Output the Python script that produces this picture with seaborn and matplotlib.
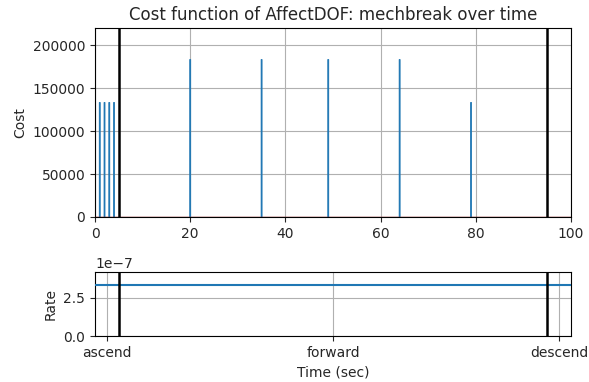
import matplotlib
matplotlib.use("Agg")
import matplotlib.pyplot as plt
import seaborn as sns
import pandas as pd

times = [1, 2, 3, 4, 20, 35, 49, 64, 79]
costs = [133333, 133333, 133333, 133333, 183333, 183333, 183333, 183333, 133333]
phase_bounds = [5, 95]
phase_labels = ["ascend", "forward", "descend"]
phase_ticks = [2.5, 50, 97.5]
rate_value = 3.35e-7

sns.set_style("white")
plt.rcParams["font.family"] = ["DejaVu Sans"]
plt.rcParams["axes.edgecolor"] = "black"

fig = plt.figure(figsize=(5.89, 3.82), dpi=100)
W, H = 589, 382
ax1 = fig.add_axes([95 / W, 1 - 217 / H, 476 / W, 189 / H])
ax2 = fig.add_axes([95 / W, 1 - 336 / H, 476 / W, 64 / H])

df = pd.DataFrame({"Time": times, "Cost": costs})
sns.barplot(data=df, x="Time", y="Cost", native_scale=True, width=0.2,
            color="#1f77b4", saturation=1, ax=ax1)
for p in ax1.patches:
    p.set_zorder(3)
    p.set_snap(False)
    p.set_antialiased(True)
    p.set_edgecolor("#1f77b4")
    p.set_linewidth(0.6)
ax1.axhline(0, color="#8b0000", lw=1, zorder=4)
for b in phase_bounds:
    ax1.axvline(b, color="black", lw=1.8, zorder=5)
ax1.set_xlim(0, 100)
ax1.set_ylim(0, 220000)
ax1.set_xticks([0, 20, 40, 60, 80, 100])
ax1.set_xticklabels(["0", "20", "40", "60", "80", "100"])
ax1.set_yticks([0, 50000, 100000, 150000, 200000])
ax1.grid(True, color="#b0b0b0", lw=0.8, zorder=0)
ax1.set_axisbelow(True)
ax1.set_xlabel("")
ax1.set_ylabel("Cost", fontsize=10)
ax1.set_title("Cost function of AffectDOF: mechbreak over time", fontsize=12)
ax1.tick_params(axis="both", labelsize=10, direction="out", length=3.5, width=0.8, bottom=True, left=True)

rdf = pd.DataFrame({"x": [0, 100], "Rate": [rate_value, rate_value]})
sns.lineplot(data=rdf, x="x", y="Rate", color="#1f77b4", lw=1.5, ax=ax2, zorder=3)
for b in phase_bounds:
    ax2.axvline(b, color="black", lw=1.8, zorder=5)
ax2.set_xlim(0, 100)
ax2.set_ylim(0, 4.2e-7)
ax2.set_xticks(phase_ticks)
ax2.set_xticklabels(phase_labels)
ax2.set_yticks([0, 2.5e-7])
ax2.grid(True, color="#b0b0b0", lw=0.8, zorder=0)
ax2.set_axisbelow(True)
ax2.set_xlabel("Time (sec)", fontsize=10)
ax2.set_ylabel("Rate", fontsize=10)
ax2.tick_params(axis="both", labelsize=10, direction="out", length=3.5, width=0.8, bottom=True, left=True)

for ax in (ax1, ax2):
    for s in ax.spines.values():
        s.set_visible(True)
        s.set_color("black")
        s.set_linewidth(0.8)

fig.savefig("out.png", dpi=100)
